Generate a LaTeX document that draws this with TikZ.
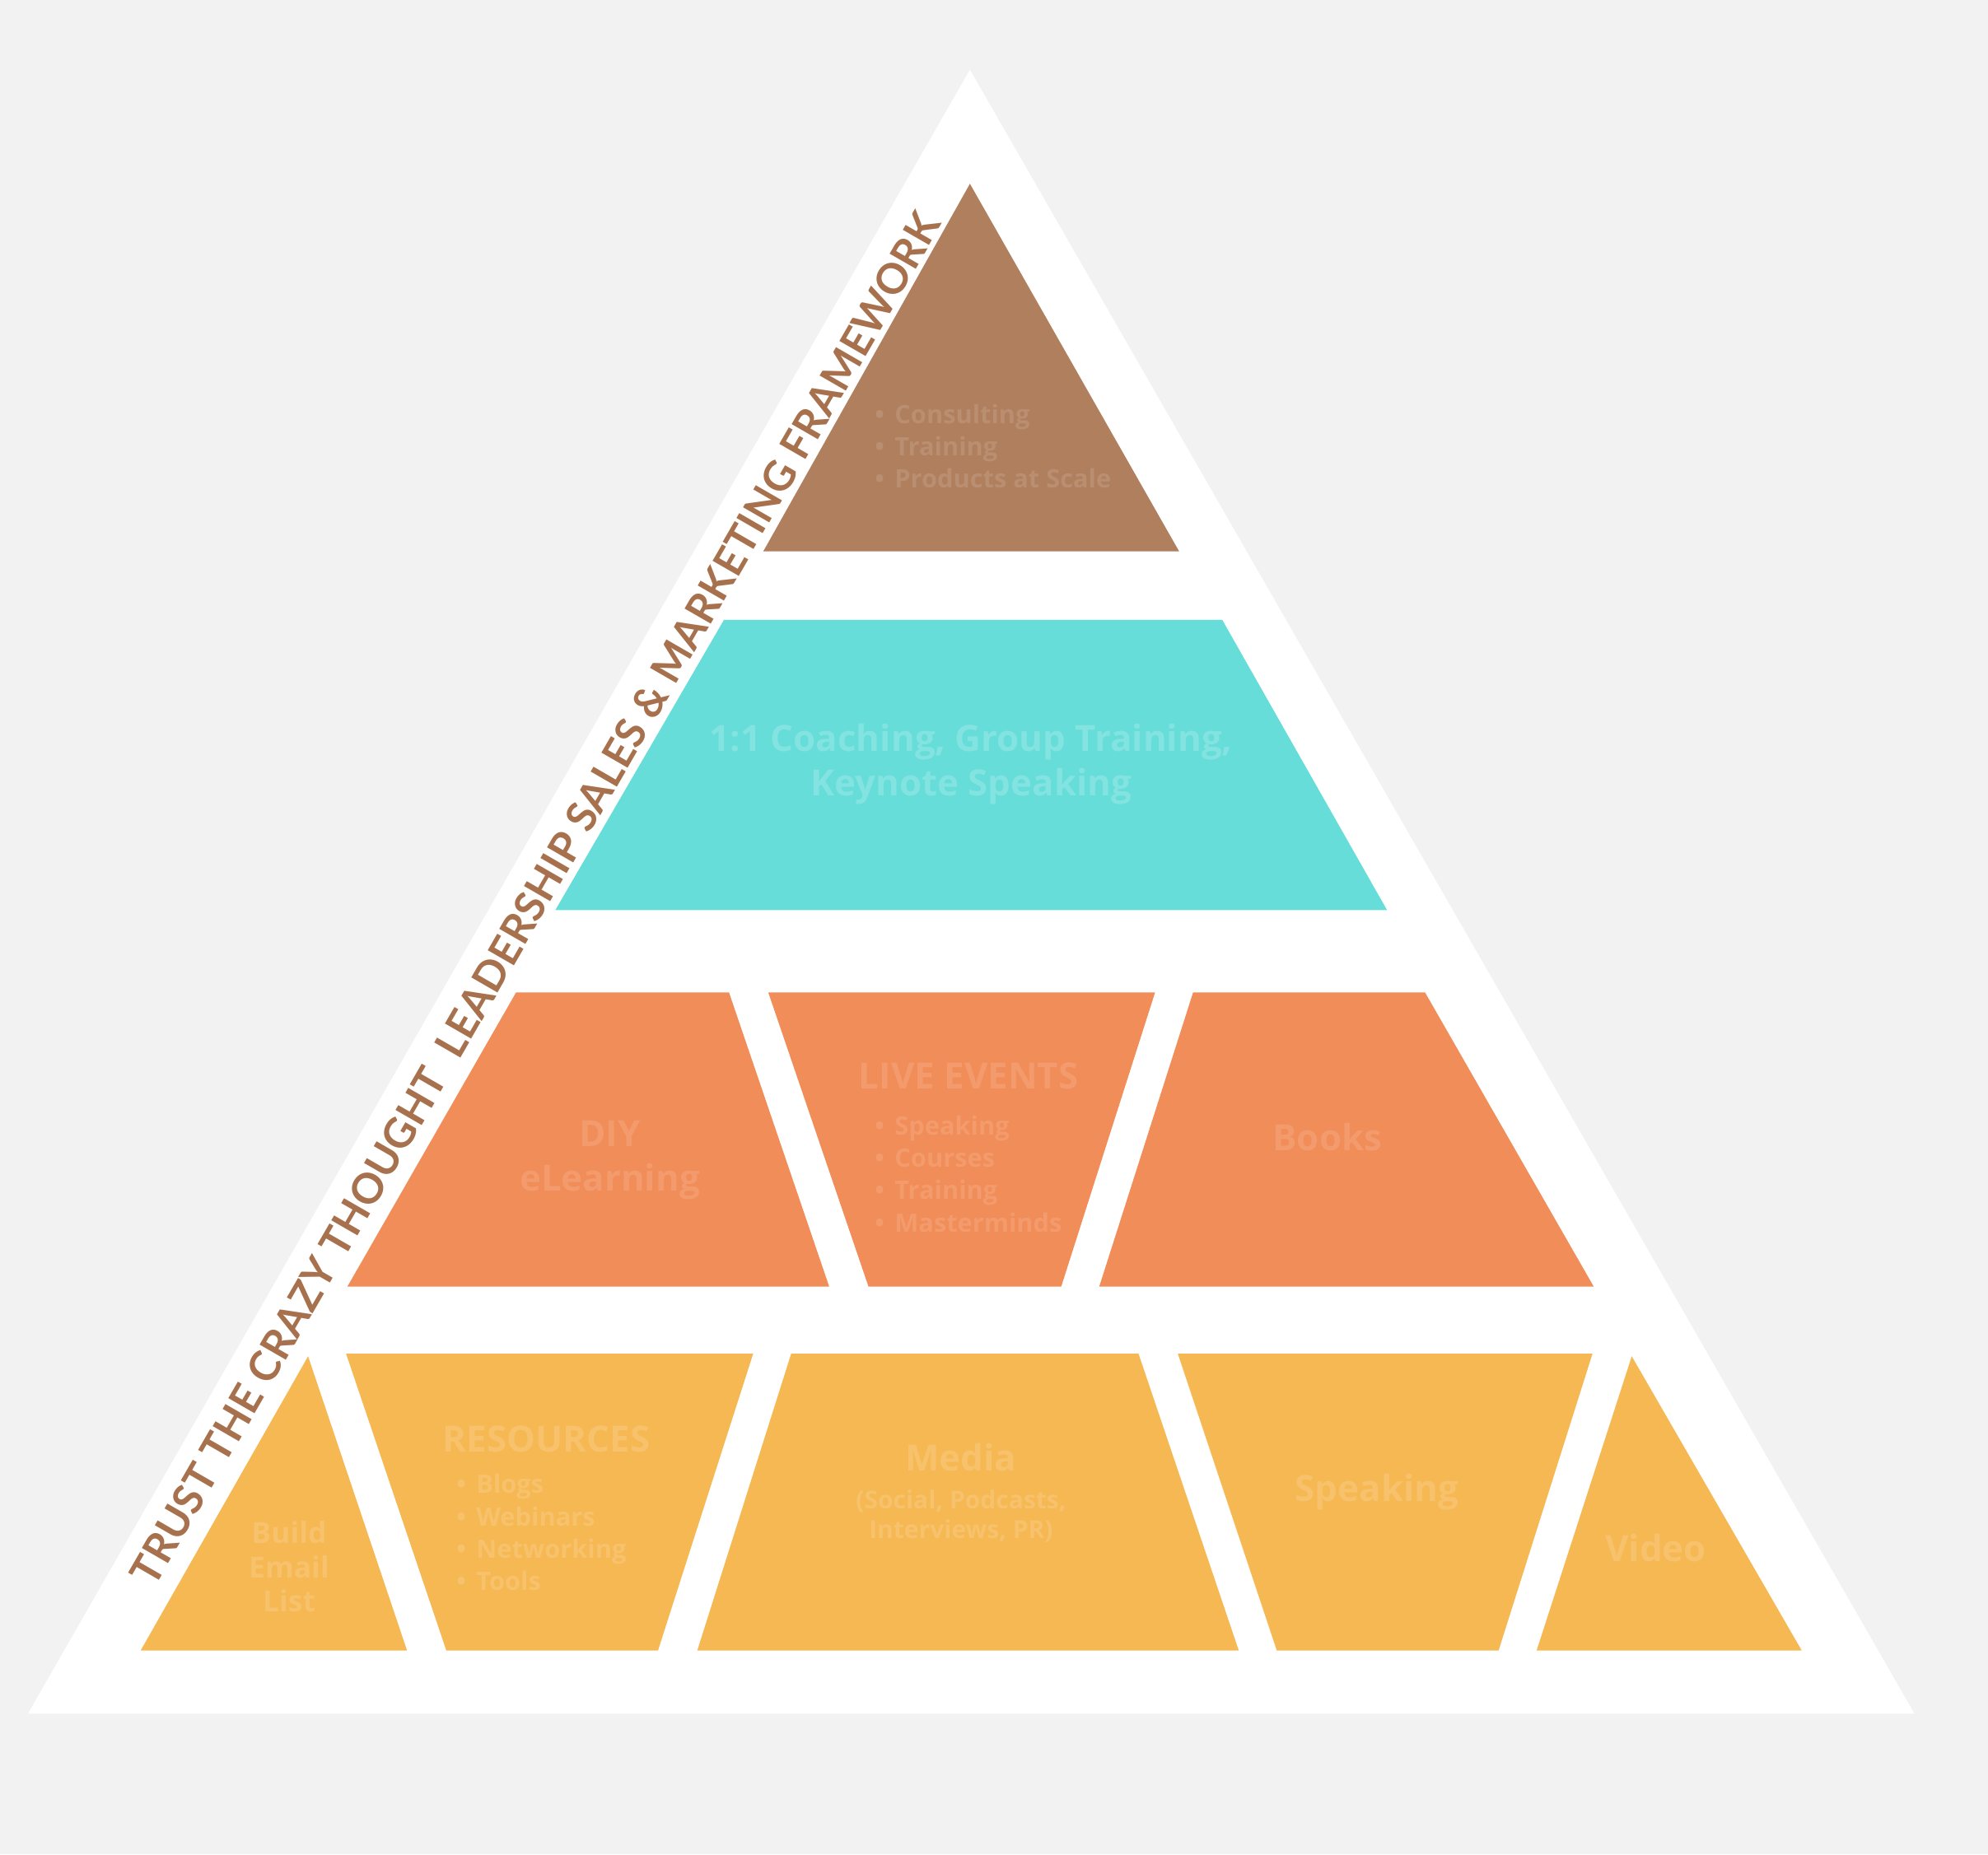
\documentclass[tikz,border=0pt]{standalone}
\usepackage{fontspec}
\setmainfont{Open Sans}
\newfontfamily\titlefont{Lato}
\newfontfamily\boxfont{Open Sans}

\definecolor{pagegray}{HTML}{F2F2F2}
\definecolor{topbrown}{HTML}{B07F5E}
\definecolor{tealrow}{HTML}{67DDD9}
\definecolor{orangerow}{HTML}{F18D58}
\definecolor{yellowrow}{HTML}{F6B853}
\definecolor{titlebrown}{HTML}{A8714E}

\tikzset{every picture/.style={line width=0.75pt}}
\tikzset{
  bigtext/.style={inner sep=0.75pt, align=center, font=\boxfont\bfseries\fontsize{28.5}{35}\selectfont},
  smalltext/.style={inner sep=0.75pt, align=left, font=\boxfont\bfseries\fontsize{20}{25.5}\selectfont},
  subtext/.style={inner sep=0.75pt, align=center, font=\boxfont\bfseries\fontsize{19.5}{23.5}\selectfont}
}
\newcommand{\itm}{•\hspace{8pt}}

\begin{document}
\begin{tikzpicture}[x=1pt,y=1pt,yscale=-1,xscale=1]
    \useasboundingbox (0,0) rectangle (1568,1463);
    %Shape: Rectangle [background]
    \fill [pagegray] (0,0) rectangle (1568,1463);
    %Shape: Triangle [outer]
    \fill [white] (765,55) -- (1510,1352) -- (22,1352) -- cycle;

    %Shape: Triangle [top]
    \fill [topbrown] (765,145) -- (930,435) -- (602,435) -- cycle;
    %Shape: Trapezoid [second row]
    \fill [tealrow] (571,489) -- (964,489) -- (1094,718) -- (438,718) -- cycle;
    %Shape: Trapezoid [third row]
    \fill [orangerow] (407,783) -- (575,783) -- (654,1015) -- (274,1015) -- cycle;
    \fill [orangerow] (606,783) -- (911,783) -- (837,1015) -- (685,1015) -- cycle;
    \fill [orangerow] (941,783) -- (1124,783) -- (1257,1015) -- (867,1015) -- cycle;
    %Shape: Trapezoid [bottom row]
    \fill [yellowrow] (243,1070) -- (321,1302) -- (111,1302) -- cycle;
    \fill [yellowrow] (273,1068) -- (594,1068) -- (519,1302) -- (352,1302) -- cycle;
    \fill [yellowrow] (624,1068) -- (898,1068) -- (977,1302) -- (550,1302) -- cycle;
    \fill [yellowrow] (929,1068) -- (1256,1068) -- (1182,1302) -- (1007,1302) -- cycle;
    \fill [yellowrow] (1287,1070) -- (1421,1302) -- (1212,1302) -- cycle;

    % Text Node
    \draw (422,709) node (title) [rotate=60, inner sep=0.75pt, text=titlebrown, font=\titlefont\bfseries\fontsize{33}{38}\selectfont] {TRUST THE CRAZY THOUGHT\ \ LEADERSHIP SALES \& MARKETING FRAMEWORK};
    % Text Node
    \draw (689,352) node (topitems) [anchor=west, smalltext, text=topbrown!88!white] {\itm Consulting\\\itm Training\\\itm Products at Scale};
    % Text Node
    \draw (766,603) node (coaching) [bigtext, text=tealrow!82!white] {1:1 Coaching, Group Training,\\Keynote Speaking};
    % Text Node
    \draw (481,915) node (diy) [bigtext, text=orangerow!88!white] {DIY\\eLearning};
    % Text Node
    \draw (764,849) node (live) [bigtext, text=orangerow!88!white] {LIVE EVENTS};
    % Text Node
    \draw (689,926) node (liveitems) [anchor=west, smalltext, text=orangerow!88!white] {\itm Speaking\\\itm Courses\\\itm Training\\\itm Masterminds};
    % Text Node
    \draw (1047,897) node (books) [bigtext, text=orangerow!88!white] {Books};
    % Text Node
    \draw (228,1236) node (email) [bigtext, font=\boxfont\bfseries\fontsize{23}{27}\selectfont, text=yellowrow!86!white] {Build\\Email\\List};
    % Text Node
    \draw (431,1135) node (resources) [bigtext, text=yellowrow!86!white] {RESOURCES};
    % Text Node
    \draw (359,1209) node (resitems) [anchor=west, smalltext, text=yellowrow!86!white] {\itm Blogs\\\itm Webinars\\\itm Networking\\\itm Tools};
    % Text Node
    \draw (758,1150) node (media) [bigtext, text=yellowrow!86!white] {Media};
    % Text Node
    \draw (758,1196) node (mediasub) [subtext, text=yellowrow!86!white] {(Social, Podcasts,\\Interviews, PR)};
    % Text Node
    \draw (1086,1177) node (speaking) [bigtext, text=yellowrow!86!white] {Speaking};
    % Text Node
    \draw (1306,1221) node (video) [bigtext, text=yellowrow!86!white] {Video};
\end{tikzpicture}
\end{document}
